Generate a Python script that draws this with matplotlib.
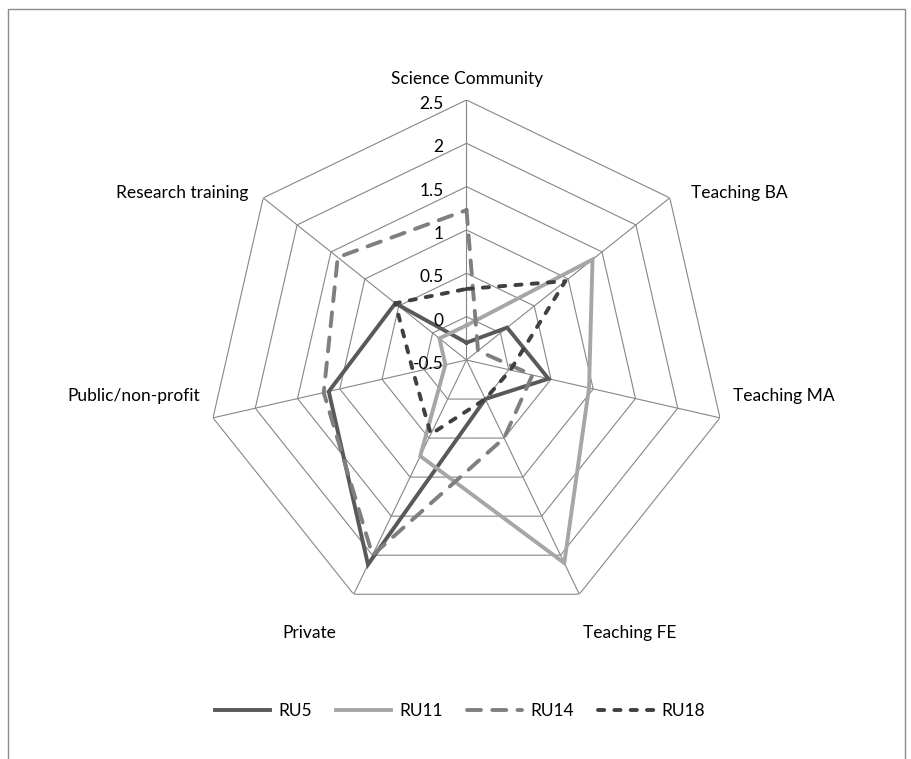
import numpy as np
import matplotlib
matplotlib.use("Agg")
import matplotlib.pyplot as plt
from matplotlib.patches import Rectangle

categories = ["Science Community", "Teaching BA", "Teaching MA", "Teaching FE",
              "Private", "Public/non-profit", "Research training"]
series_names = ["RU5", "RU11", "RU14", "RU18"]
ru5 = [-0.3, 0.1, 0.47, 0.0, 2.12, 1.13, 0.55]
ru11 = [-0.1, 1.36, 0.95, 2.1, 0.73, -0.25, -0.1]
ru14 = [1.23, -0.33, 0.28, 0.5, 2.0, 1.19, 1.4]
ru18 = [0.32, 0.96, 0.02, 0.0, 0.45, 0.13, 0.55]
tick_values = [-0.5, 0, 0.5, 1, 1.5, 2, 2.5]
tick_labels = ["-0.5", "0", "0.5", "1", "1.5", "2", "2.5"]

plt.rcParams['font.family'] = ['Lato', 'DejaVu Sans']
FS = 12.5

W, H = 912, 759
fig = plt.figure(figsize=(W / 100, H / 100), dpi=100)

# frame around chart area
fig.patches.append(Rectangle((8 / W, -0.05), (905 - 8) / W, 1.05 - 9 / H,
                             transform=fig.transFigure, fill=False,
                             edgecolor="#8c8c8c", linewidth=1.0))

cx, cy, R = 466.5, 360.0, 260.0
ax = fig.add_axes([(cx - R) / W, (H - cy - R) / H, 2 * R / W, 2 * R / H],
                  projection="polar")
ax.set_theta_offset(np.pi / 2)
ax.set_theta_direction(-1)
ax.set_ylim(-0.5, 2.5)
ax.grid(False)
ax.spines['polar'].set_visible(False)
ax.set_xticks([])
ax.set_yticks([])
ax.patch.set_alpha(0)

n = len(categories)
angles = np.arange(n) * 2 * np.pi / n
closed = np.concatenate([angles, angles[:1]])

grid_color = "#868686"
for lvl in tick_values[1:]:
    ax.plot(closed, [lvl] * (n + 1), color=grid_color, lw=0.8, zorder=1)
for a in angles:
    ax.plot([a, a], [-0.5, 2.5], color=grid_color, lw=0.8, zorder=1)

# tick labels along top axis
for v, lab in zip(tick_values, tick_labels):
    ax.annotate(lab, xy=(0, v), xytext=(-23, -4), textcoords="offset pixels",
                ha="right", va="center", fontsize=FS, color="#000000",
                annotation_clip=False, zorder=5)

# category labels
label_offsets = [((1, 21), "center"), ((21, 5), "left"), ((13, 22), "left"),
                 ((4, -39), "left"), ((-17, -39), "right"), ((-13, 22), "right"),
                 ((-15, 5), "right")]
for a, cat, (off, ha) in zip(angles, categories, label_offsets):
    ax.annotate(cat, xy=(a, 2.5), xytext=off, textcoords="offset pixels",
                ha=ha, va="center", fontsize=FS, color="#000000",
                annotation_clip=False)

lw = 2.8
styles = [
    dict(color="#595959", linestyle="-"),
    dict(color="#a6a6a6", linestyle="-"),
    dict(color="#7f7f7f", linestyle=(0, (3.6, 2.9))),
    dict(color="#404040", linestyle=(0, (1.6, 2.6))),
]
data = [ru5, ru11, ru14, ru18]
handles = []
for name, vals, st in zip(series_names, data, styles):
    vv = list(vals) + [vals[0]]
    ln, = ax.plot(closed, vv, lw=lw, color=st["color"], linestyle=st["linestyle"],
                  dash_capstyle="round", solid_joinstyle="miter", zorder=3,
                  label=name)
    handles.append(ln)

leg = fig.legend(handles=handles, labels=series_names, loc="center",
                 bbox_to_anchor=(460 / W, 1 - 711 / H), ncol=4, frameon=False,
                 fontsize=FS, handlelength=3.2, handletextpad=0.46,
                 columnspacing=1.38)

fig.savefig("out.png", dpi=100)
